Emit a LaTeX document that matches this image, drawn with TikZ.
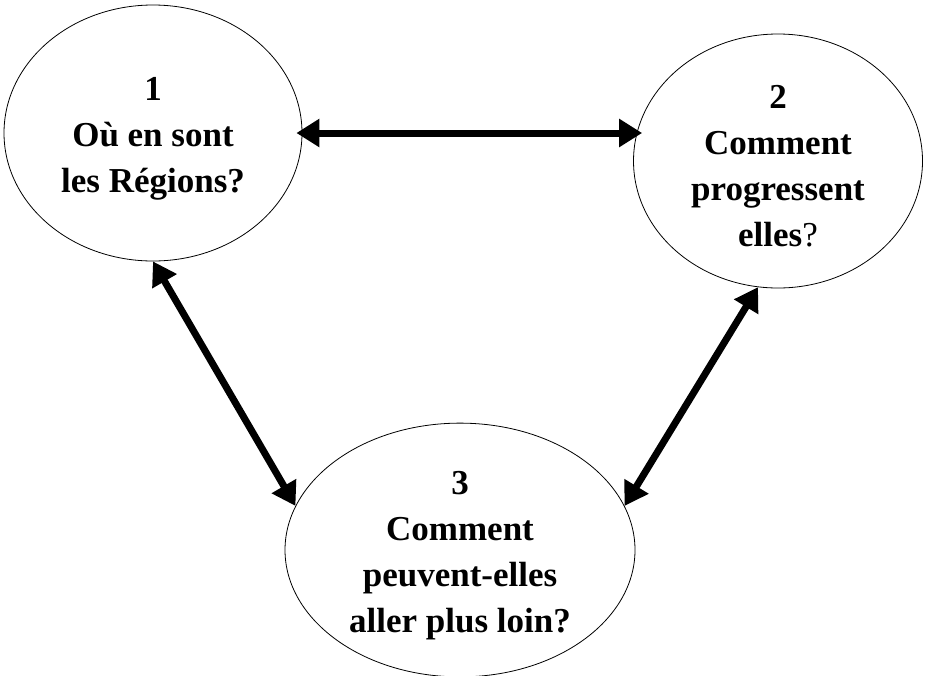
\documentclass[tikz,border=0pt]{standalone}
\usepackage{fontspec}
\setmainfont{Liberation Serif}
\usetikzlibrary{positioning, arrows.meta, shapes.geometric}
\newcommand{\lift}{\rule{0pt}{34pt}}

\begin{document}
\begin{tikzpicture}[
  x=1pt, y=-1pt,
  every node/.style={font=\bfseries\fontsize{35}{46}\selectfont},
  bubble/.style={ellipse, draw=black, line width=0.8pt, inner sep=0pt, align=center},
  link/.style={<->, line width=7pt},
  >={Triangle[length=23pt, width=27pt]}
]

\useasboundingbox (0,0) rectangle (925,675);

\node[bubble, minimum width=298pt, minimum height=256pt] (regions) at (153,133)
  {\lift 1\\Où en sont\\les Régions?};
\node[bubble, minimum width=289pt, minimum height=254pt] (progres) at (778,161)
  {\lift 2\\Comment\\progressent\\elles{\mdseries ?}};
\node[bubble, minimum width=350pt, minimum height=245pt] (loin) at (460,550)
  {\lift 3\\Comment\hspace*{0.7em}\\peuvent-elles\\aller plus loin?};

\draw[link] ([xshift=-6pt]regions.east) -- ([xshift=9pt]progres.west |- regions.east);
\draw[link] (regions.south) -- (loin.165);
\draw[link] (progres.261) -- (loin.15);

\end{tikzpicture}
\end{document}
